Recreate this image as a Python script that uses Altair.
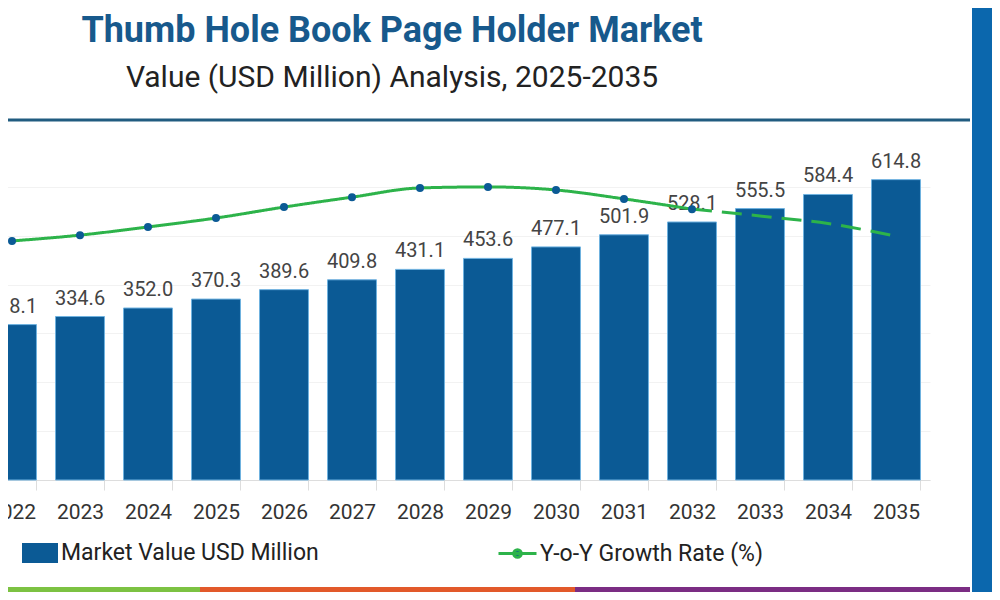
import altair as alt
import pandas as pd

# ---- data ----
years = [str(y) for y in range(2022, 2036)]
market_values = [318.1, 334.6, 352.0, 370.3, 389.6, 409.8, 431.1,
                 453.6, 477.1, 501.9, 528.1, 555.5, 584.4, 614.8]
growth_years_actual = ["2022", "2023", "2024", "2025", "2026", "2027",
                       "2028", "2029", "2030", "2031", "2032"]
growth_actual = [6.99, 7.16, 7.40, 7.66, 7.98, 8.27, 8.54, 8.57, 8.48, 8.22, 7.92]
growth_years_forecast = ["2032", "2033", "2034", "2035"]
growth_forecast = [7.92, 7.72, 7.50, 7.13]
grid_values = [0, 100, 200, 300, 400, 500, 600]

bar_name = "Market Value USD Million"
line_name = "Y-o-Y Growth Rate (%)"

bars_df = pd.DataFrame({"year": years, "value": market_values, "series": bar_name})
line_df = pd.concat([
    pd.DataFrame({"year": growth_years_actual, "growth": growth_actual, "segment": "actual"}),
    pd.DataFrame({"year": growth_years_forecast, "growth": growth_forecast, "segment": "forecast"}),
], ignore_index=True)
line_df["series"] = line_name
one = pd.DataFrame({"d": [0]})

BLUE = "#0b5a95"
GREEN = "#2db34a"
FONT = "Roboto"

x_enc = alt.X(
    "year:O",
    sort=years,
    scale=alt.Scale(range=[-30, 922], paddingInner=0.28, paddingOuter=0.14),
    axis=alt.Axis(title=None, labelAngle=0, tickBand="extent", tickSize=10,
                  tickColor="#dddddd", domainColor="#dddddd", labelFontSize=21,
                  labelFont=FONT, labelColor="#333333", labelPadding=11),
)

bars = alt.Chart(bars_df).mark_bar(stroke="#6fb2e0", strokeWidth=1).encode(
    x=x_enc,
    y=alt.Y("value:Q", scale=alt.Scale(domain=[0, 700]),
            axis=alt.Axis(title=None, labels=False, ticks=False, domain=False,
                          grid=True, gridColor="#f2f2f2", values=grid_values)),
    color=alt.Color("series:N", scale=alt.Scale(domain=[bar_name], range=[BLUE]),
                    legend=alt.Legend(orient="none", legendX=14, legendY=397, title=None,
                                      symbolType="M-1,-0.55L1,-0.55L1,0.55L-1,0.55Z",
                                      symbolSize=1296, symbolStrokeWidth=0,
                                      labelFontSize=23, labelFont=FONT, labelColor="#222222",
                                      labelOffset=3, labelLimit=0, padding=0)),
)

labels = alt.Chart(bars_df).mark_text(
    baseline="alphabetic", dy=-12, fontSize=20, font=FONT, color="#444444"
).encode(
    x=alt.X("year:O", sort=years),
    y=alt.Y("value:Q", scale=alt.Scale(domain=[0, 700]), axis=None),
    text=alt.Text("value:Q", format=".1f"),
)

line = alt.Chart(line_df).mark_line(strokeWidth=3, interpolate="monotone").encode(
    x=alt.X("year:O", sort=years),
    y=alt.Y("growth:Q", scale=alt.Scale(domain=[0, 10]), axis=None),
    stroke=alt.Stroke("series:N", scale=alt.Scale(domain=[line_name], range=[GREEN]),
                      legend=alt.Legend(orient="none", legendX=489, legendY=395, title=None,
                                        symbolType="M-1,0L1,0M0.2,0A0.2,0.2,0,1,1,-0.2,0A0.2,0.2,0,1,1,0.2,0Z",
                                        symbolSize=1444, symbolStrokeWidth=3,
                                        symbolFillColor=BLUE,
                                        labelFontSize=23, labelFont=FONT, labelColor="#222222",
                                        labelOffset=2, labelLimit=0, padding=0)),
    strokeDash=alt.StrokeDash("segment:N",
                              scale=alt.Scale(domain=["actual", "forecast"], range=[[1, 0], [20, 10]]),
                              legend=None),
)

points = alt.Chart(line_df).transform_filter(
    alt.datum.segment == "actual"
).mark_circle(size=64, color=BLUE, opacity=1).encode(
    x=alt.X("year:O", sort=years),
    y=alt.Y("growth:Q", scale=alt.Scale(domain=[0, 10]), axis=None),
)

# ---- decorations (frame of the infographic) ----
sep_rule = alt.Chart(one).mark_rule(color="#215c80", strokeWidth=3).encode(
    x=alt.value(0), x2=alt.value(962), y=alt.value(-18))
panel = alt.Chart(one).mark_rect(color="#0b67ad").encode(
    x=alt.value(964), x2=alt.value(984), y=alt.value(-130), y2=alt.value(454))
stripe_g = alt.Chart(one).mark_rect(color="#7cc242").encode(
    x=alt.value(0), x2=alt.value(192), y=alt.value(449), y2=alt.value(454))
stripe_o = alt.Chart(one).mark_rect(color="#e2592a").encode(
    x=alt.value(192), x2=alt.value(567), y=alt.value(449), y2=alt.value(454))
stripe_p = alt.Chart(one).mark_rect(color="#7b2d83").encode(
    x=alt.value(567), x2=alt.value(962), y=alt.value(449), y2=alt.value(454))

chart = alt.layer(
    bars, labels, line, points, sep_rule, panel, stripe_g, stripe_o, stripe_p
).resolve_scale(
    y="independent"
).properties(
    width=922,
    height=342,
    autosize=alt.AutoSizeParams(type="none"),
    padding={"left": 0, "top": 130, "right": 62, "bottom": 112},
    title=alt.TitleParams(
        text="Thumb Hole Book Page Holder Market",
        subtitle="Value (USD Million) Analysis, 2025-2035",
        anchor="middle", frame="group", dx=-77, offset=-86,
        font=FONT, fontSize=36, fontWeight="bold", color="#17598c",
        subtitleFont=FONT, subtitleFontSize=30, subtitleColor="#222222",
        subtitlePadding=13,
    ),
    background="white",
).configure_view(stroke=None)

chart.save("out.html", embed_options={"renderer": "svg", "actions": False})
